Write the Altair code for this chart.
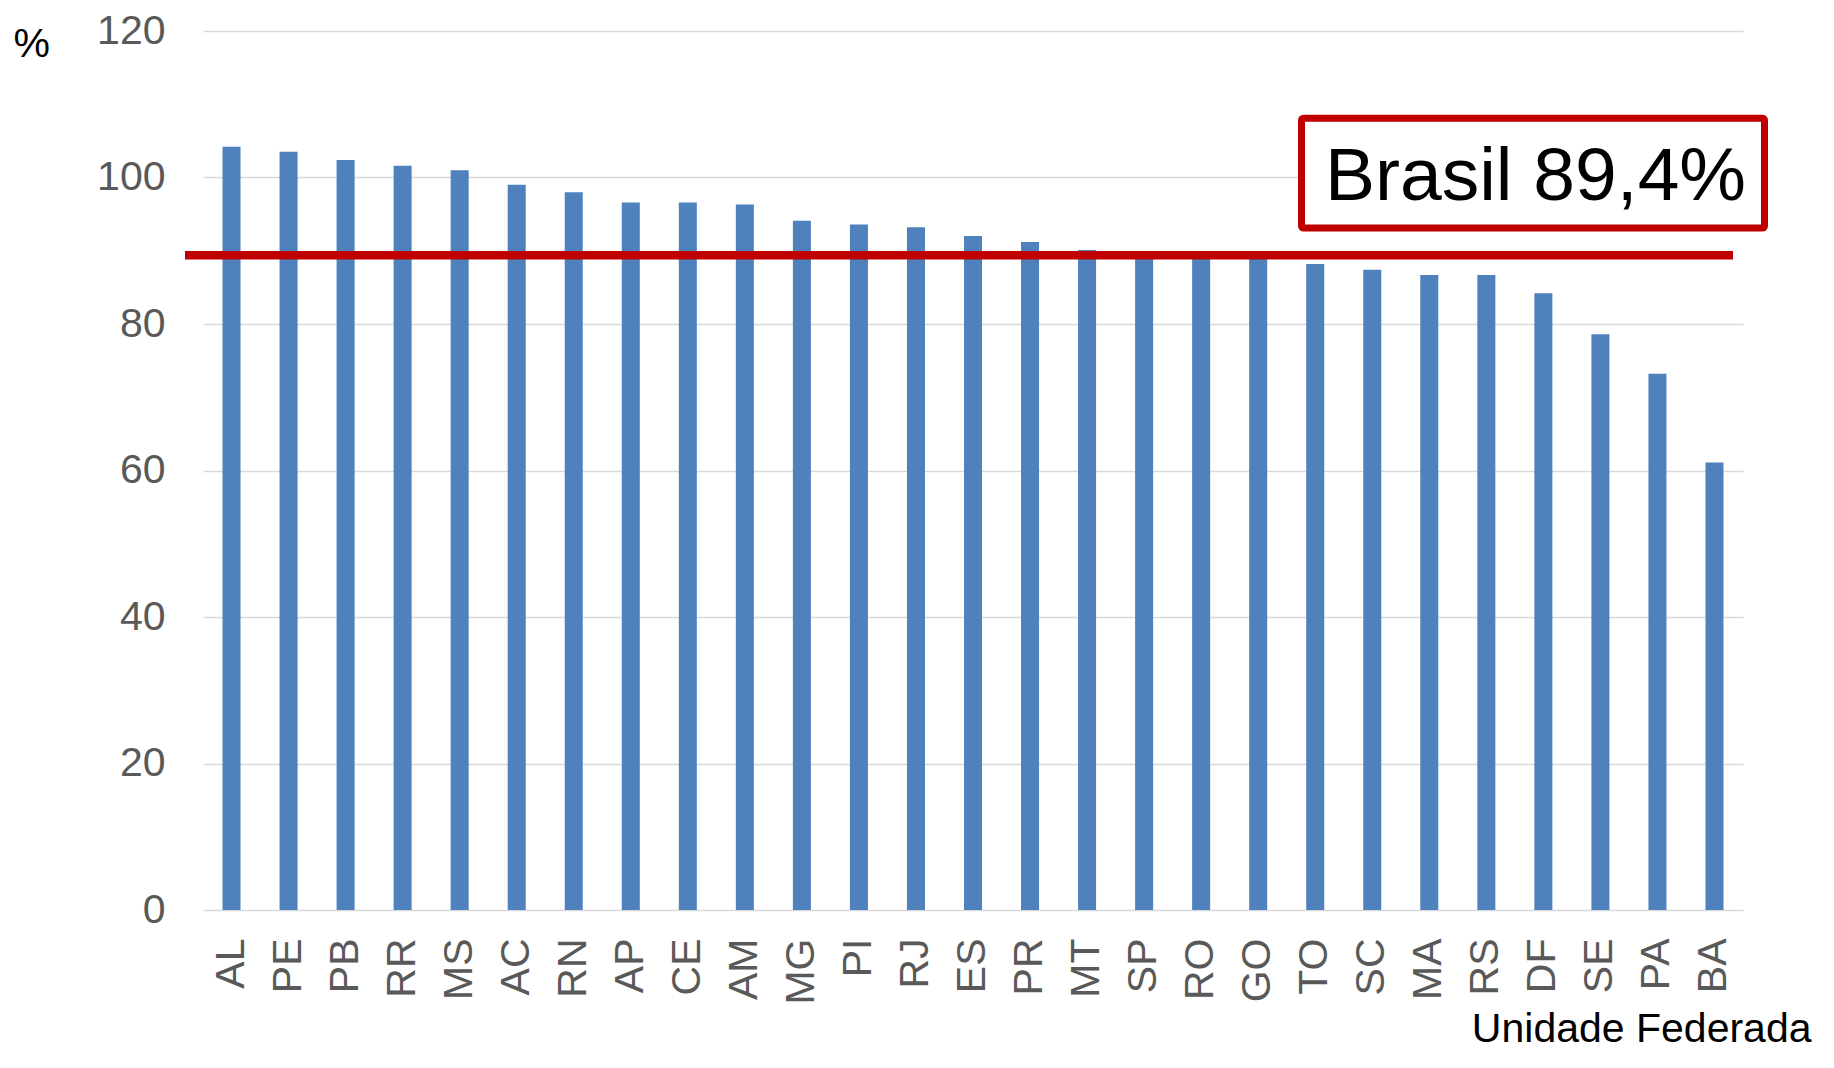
import altair as alt
import pandas as pd

# Unidades Federadas and their values (%)
ufs = ["AL", "PE", "PB", "RR", "MS", "AC", "RN", "AP", "CE", "AM", "MG", "PI", "RJ", "ES",
       "PR", "MT", "SP", "RO", "GO", "TO", "SC", "MA", "RS", "DF", "SE", "PA", "BA"]
valores = [104.2, 103.5, 102.4, 101.6, 101.0, 99.0, 98.0, 96.6, 96.6, 96.3, 94.1, 93.6, 93.2, 92.0,
           91.2, 90.1, 89.8, 89.6, 89.3, 88.2, 87.4, 86.7, 86.7, 84.2, 78.6, 73.2, 61.1]
brasil_valor = [89.4]
brasil_texto = ["Brasil 89,4%"]
y_ticks = [0, 20, 40, 60, 80, 100, 120]
caixa_y = [93.1]
caixa_y2 = [108.1]
texto_y = [96.9]

FONT = "Liberation Sans"
W, H = 1540, 879

df = pd.DataFrame({"uf": ufs, "valor": valores})
df_br = pd.DataFrame({"valor": brasil_valor})
df_box = pd.DataFrame({"valor": caixa_y, "valor2": caixa_y2})
df_txt = pd.DataFrame({"valor": texto_y, "label": brasil_texto})

yscale = alt.Scale(domain=[0, 120], nice=False, zero=True)
yaxis = alt.Axis(values=y_ticks, title="%", labelFontSize=41, labelColor="#595959",
                 labelFont=FONT, labelPadding=38, ticks=False, domain=False,
                 grid=True, gridColor="#D9D9D9", gridWidth=1.5,
                 titleFont=FONT, titleFontSize=41, titleFontWeight="normal",
                 titleColor="black", titleAngle=0, titleAlign="left",
                 titleBaseline="alphabetic", titleX=-190, titleY=25)

bars = alt.Chart(df).mark_bar(color="#4F81BD").encode(
    x=alt.X("uf:N", sort=None,
            scale=alt.Scale(paddingInner=0.684, paddingOuter=0.342),
            axis=alt.Axis(title="Unidade Federada", labelAngle=-90, labelFontSize=41,
                          labelColor="#595959", labelFont=FONT, labelPadding=28,
                          ticks=False, domain=False, grid=False,
                          titleFont=FONT, titleFontSize=41, titleFontWeight="normal",
                          titleColor="black", titleAlign="right", titleBaseline="alphabetic",
                          titleX=1608, titleY=131, titleAnchor="end")),
    y=alt.Y("valor:Q", scale=yscale, axis=yaxis),
)

rule = alt.Chart(df_br).mark_rule(color="#C00000", strokeWidth=8.5).encode(
    y=alt.Y("valor:Q", scale=yscale, axis=yaxis),
    x=alt.value(-18),
    x2=alt.value(1530),
)

box = alt.Chart(df_box).mark_rect(fill="white", stroke="#C00000", strokeWidth=7,
                                  cornerRadius=2).encode(
    y=alt.Y("valor:Q", scale=yscale, axis=yaxis),
    y2="valor2:Q",
    x=alt.value(1098.5),
    x2=alt.value(1561.5),
)

txt = alt.Chart(df_txt).mark_text(font=FONT, fontSize=75, color="black", align="left",
                                  baseline="alphabetic").encode(
    y=alt.Y("valor:Q", scale=yscale, axis=yaxis),
    x=alt.value(1122),
    text="label:N",
)

chart = alt.layer(bars, rule, box, txt).properties(
    width=W, height=H,
    autosize=alt.AutoSizeParams(type="none"),
    padding={"left": 195, "top": 23, "right": 75, "bottom": 142},
    background="white",
).configure_view(stroke=None)

chart.save("out.html", embed_options={"renderer": "svg", "actions": False})
